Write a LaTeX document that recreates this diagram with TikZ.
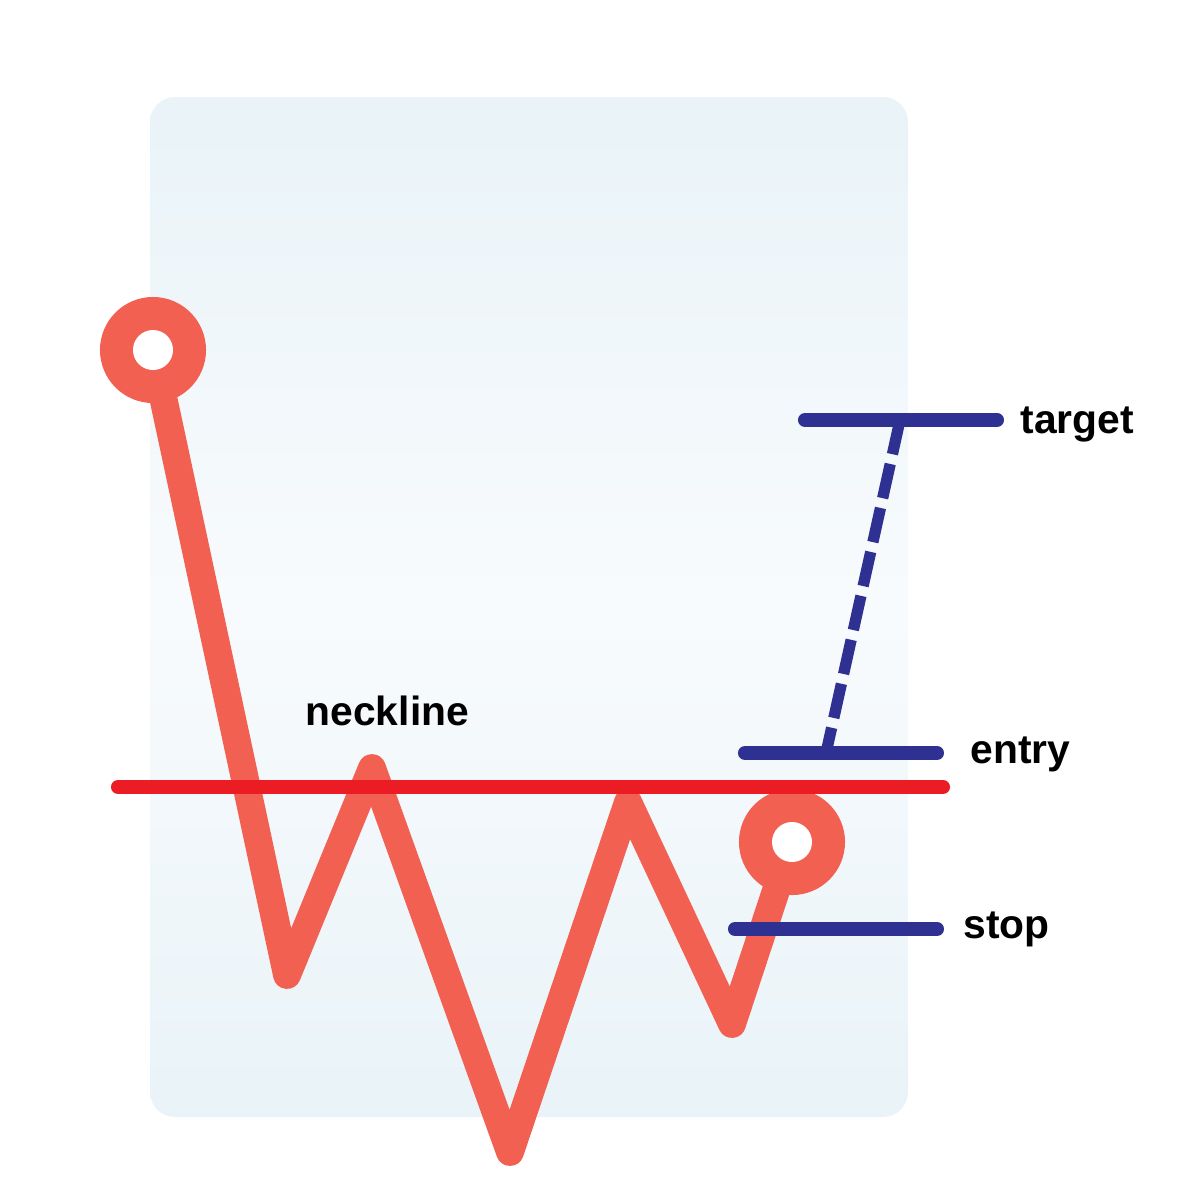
\documentclass[tikz,border=0pt]{standalone}
\usepackage{fontspec}
\setsansfont{Liberation Sans}
\usetikzlibrary{positioning}

\definecolor{panelblue}{RGB}{233,243,248}
\definecolor{panelwhite}{RGB}{248,251,253}
\definecolor{coral}{RGB}{242,96,82}
\definecolor{necklinered}{RGB}{236,28,36}
\definecolor{levelblue}{RGB}{46,49,146}

\begin{document}
\begin{tikzpicture}[
    x=0.01cm,
    y=-0.01cm,
    price/.style={
        draw=coral,
        line width=7.9pt,
        line cap=round,
        line join=round
    },
    neck/.style={
        draw=necklinered,
        line width=4pt,
        line cap=round
    },
    level/.style={
        draw=levelblue,
        line width=4pt,
        line cap=round
    },
    projection/.style={
        draw=levelblue,
        line width=3.2pt,
        dash pattern=on 0.35cm off 0.1cm
    },
    label/.style={
        font=\sffamily\bfseries\fontsize{11.6}{14}\selectfont,
        text=black,
        inner sep=0pt,
        anchor=base west
    }
]
    \useasboundingbox (0,0) rectangle (1188,1178);

    % background panel
    \shade [top color=panelblue, bottom color=panelblue, middle color=panelwhite,
            rounded corners=0.25cm] (150,97) rectangle (908,1117);

    % price path
    \coordinate (start) at (153,350);
    \coordinate (low1) at (287,975);
    \coordinate (high1) at (372,768);
    \coordinate (low2) at (510,1152);
    \coordinate (high2) at (628,802);
    \coordinate (low3) at (732,1024);
    \coordinate (end) at (792,842);

    \draw [price] (start) -- (low1) -- (high1) -- (low2) -- (high2) -- (low3) -- (end);
    \foreach \pt in {start, end} {
        \fill [coral] (\pt) circle [radius=0.53cm];
        \fill [white] (\pt) circle [radius=0.2cm];
    }

    % neckline
    \coordinate (neckL) at (118,787);
    \coordinate (neckR) at (943,787);
    \draw [neck] (neckL) -- (neckR);

    % trade levels
    \coordinate (targetL) at (805,420);
    \coordinate (targetR) at (997,420);
    \coordinate (entryL) at (745,753);
    \coordinate (entryR) at (937,753);
    \coordinate (stopL) at (735,929);
    \coordinate (stopR) at (937,929);
    \coordinate (targetA) at (900,420);
    \coordinate (entryA) at (826,753);

    \draw [projection] (targetA) -- (entryA);
    \draw [level] (targetL) -- (targetR);
    \draw [level] (entryL) -- (entryR);
    \draw [level] (stopL) -- (stopR);

    \node [label] (targetlbl) at (1020,433) {target};
    \node [label] (entrylbl) at (970,763) {entry};
    \node [label] (stoplbl) at (963,938) {stop};
    \node [label] (necklbl) at (305,725) {neckline};
\end{tikzpicture}
\end{document}
